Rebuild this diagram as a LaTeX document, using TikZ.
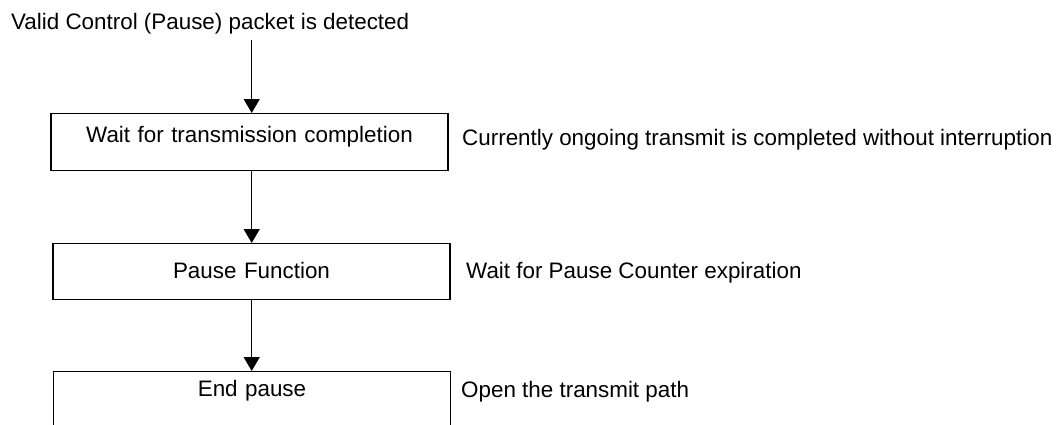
\documentclass[tikz,border=0pt]{standalone}
\usepackage{fontspec}
\setmainfont{Liberation Sans}
\usetikzlibrary{arrows.meta}
\begin{document}
\begin{tikzpicture}[x=1pt,y=-1pt,
  every node/.style={font=\fontsize{22.4}{26}\selectfont, inner sep=0pt},
  stepbox/.style={draw, line width=1.3pt, rectangle, minimum width=397pt, text width=397pt, align=center},
  note/.style={anchor=base west},
  flow/.style={line width=1.3pt, -{Triangle[length=14pt,width=16pt]}}]
\path[use as bounding box, clip] (0,0) rectangle (1063,424);
\fill[white] (0,0) rectangle (1063,424);
% top text
\node[note] (start) at (11,29) {Valid Control (Pause) packet is detected};
\coordinate (s) at (251.7,40);
% boxes (text baseline set by text height/depth)
\node[stepbox, text height=29pt, text depth=28pt, anchor=north] (b1) at (249.5,113) {Wait for transmission completion};
\node[stepbox, text height=35pt, text depth=21pt, anchor=north] (b2) at (251.5,243) {Pause Function};
\node[stepbox, text height=25pt, text depth=34pt, anchor=north] (b3) at (252,371) {End pause};
% right notes
\node[note] (n1) at (462,145) {Currently ongoing transmit is completed without interruption};
\node[note] (n2) at (466,278) {Wait for Pause Counter expiration};
\node[note] (n3) at (461,397) {Open the transmit path};
% connectors
\draw[flow] (s) -- (s |- b1.north);
\draw[flow] (s |- b1.south) -- (s |- b2.north);
\draw[flow] (s |- b2.south) -- (s |- b3.north);
\end{tikzpicture}
\end{document}
